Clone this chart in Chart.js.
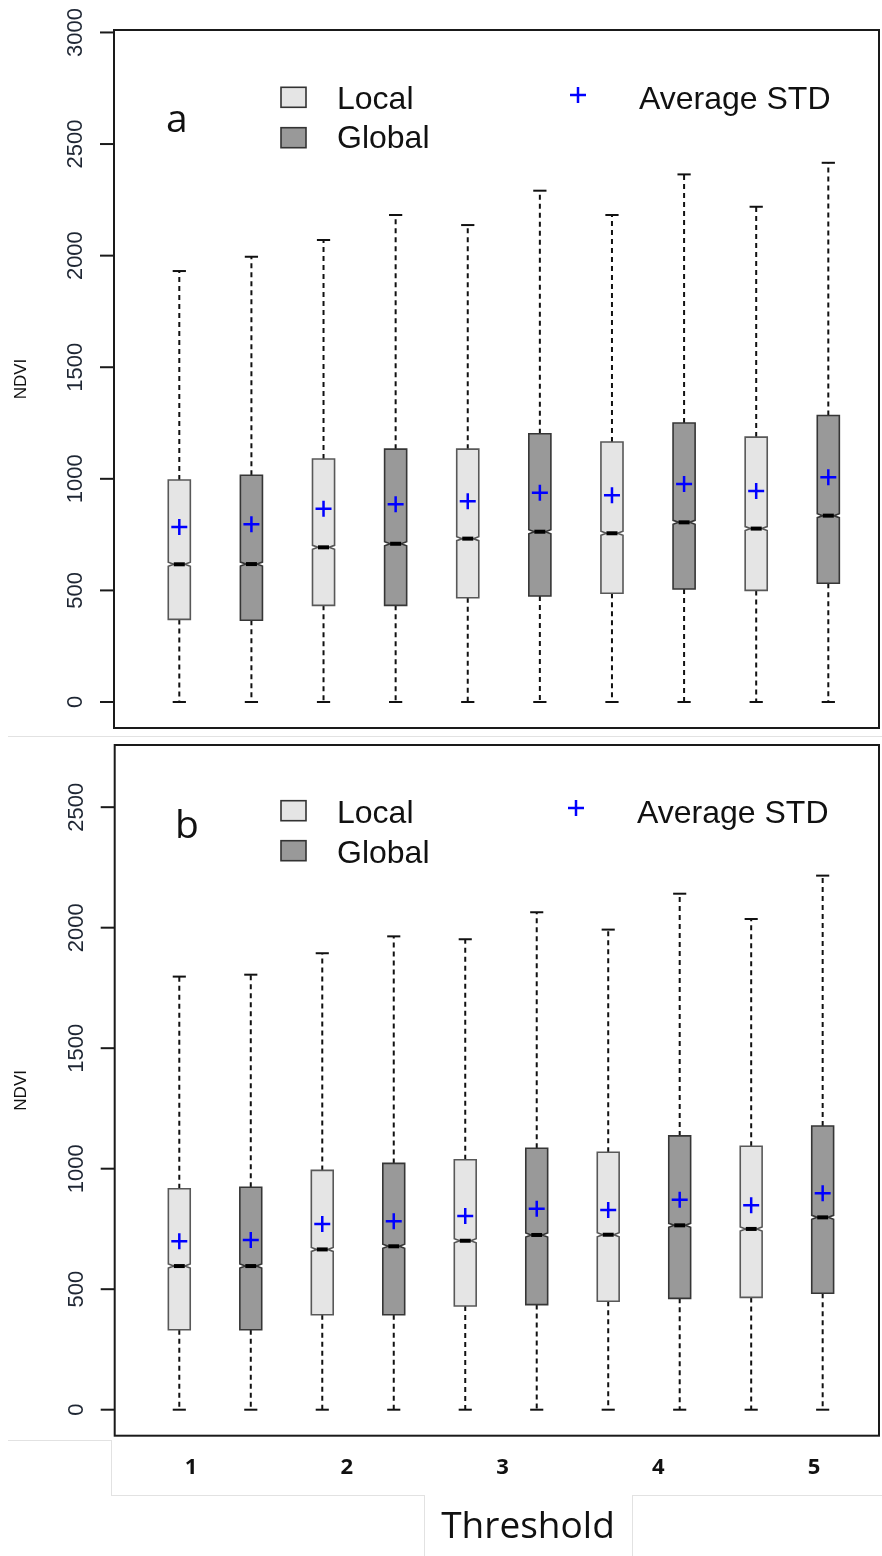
<!DOCTYPE html>
<html><head><meta charset="utf-8">
<script src="https://cdn.jsdelivr.net/npm/chart.js@4.4.0/dist/chart.umd.min.js"></script>
<style>
html,body{margin:0;padding:0;background:#fff;}
body{width:882px;height:1556px;position:relative;overflow:hidden;}
canvas{position:absolute;left:0;}
#ca{top:0;}
#cb{top:735px;}
.fl{position:absolute;background:#e2e2e2;}
</style></head><body>
<div class="fl" style="left:8px;top:736px;width:874px;height:1px"></div>
<div class="fl" style="left:8px;top:1440px;width:104px;height:1px"></div>
<div class="fl" style="left:111px;top:1440px;width:1px;height:56px"></div>
<div class="fl" style="left:111px;top:1495px;width:314px;height:1px"></div>
<div class="fl" style="left:424px;top:1495px;width:1px;height:61px"></div>
<div class="fl" style="left:632px;top:1495px;width:1px;height:61px"></div>
<div class="fl" style="left:632px;top:1495px;width:250px;height:1px"></div>
<canvas id="ca" width="882" height="735"></canvas>
<canvas id="cb" width="882" height="821"></canvas>
<script>
// ---------- data ----------
const positions = [1, 2, 3, 4, 5, 6, 7, 8, 9, 10];
const groups = ['Local', 'Global', 'Local', 'Global', 'Local', 'Global', 'Local', 'Global', 'Local', 'Global'];
const seriesNames = ['Local', 'Global'];
const meanName = 'Average STD';
const thresholds = ['1', '2', '3', '4', '5'];
const yTicksA = [0, 500, 1000, 1500, 2000, 2500, 3000];
const yTicksB = [0, 500, 1000, 1500, 2000, 2500];

// panel a
const aMin  = [0, 0, 0, 0, 0, 0, 0, 0, 0, 0];
const aQ1   = [370, 366, 433, 433, 467, 475, 487, 506, 500, 532];
const aMed  = [617, 618, 693, 709, 732, 763, 756, 805, 777, 835];
const aQ3   = [995, 1016, 1089, 1133, 1133, 1202, 1165, 1250, 1187, 1284];
const aMax  = [1931, 1995, 2070, 2182, 2137, 2291, 2182, 2364, 2219, 2416];
const aMean = [784, 796, 866, 886, 900, 938, 926, 977, 945, 1007];

// panel b
const bMin  = [0, 0, 0, 0, 0, 0, 0, 0, 0, 0];
const bQ1   = [332, 332, 394, 394, 430, 436, 450, 462, 466, 483];
const bMed  = [596, 596, 665, 678, 701, 725, 726, 765, 750, 798];
const bQ3   = [917, 923, 993, 1022, 1037, 1085, 1068, 1136, 1093, 1177];
const bMax  = [1797, 1805, 1894, 1964, 1952, 2064, 1992, 2141, 2036, 2216];
const bMean = [699, 704, 770, 782, 804, 834, 829, 871, 848, 898];

// ---------- styles ----------
const FILL = {Local: '#e5e5e5', Global: '#999999'};
const EDGE = {Local: '#585858', Global: '#363636'};
const SANS = '"Liberation Sans", Arial, sans-serif';

function line(ctx, x1, y1, x2, y2) {
  ctx.beginPath(); ctx.moveTo(x1, y1); ctx.lineTo(x2, y2); ctx.stroke();
}

function panelPlugin(P) {
  return {
    id: 'panel' + P.letter,
    beforeDatasetsDraw(chart) {
      const ctx = chart.ctx, ca = chart.chartArea, xs = chart.scales.x, ys = chart.scales.y;
      ctx.save();
      // frame
      ctx.strokeStyle = '#1a1a1a'; ctx.lineWidth = 2;
      ctx.strokeRect(ca.left, ca.top, ca.right - ca.left, ca.bottom - ca.top);
      // y ticks + rotated labels
      ctx.font = '22px ' + SANS; ctx.fillStyle = '#1e2633';
      P.yTicks.forEach(v => {
        const y = ys.getPixelForValue(v);
        ctx.strokeStyle = '#1a1a1a'; ctx.lineWidth = 2;
        line(ctx, ca.left - 14, y, ca.left, y);
        ctx.save(); ctx.translate(ca.left - 32, y); ctx.rotate(-Math.PI / 2);
        ctx.textAlign = 'center'; ctx.textBaseline = 'alphabetic';
        ctx.fillText(String(v), 0, 0); ctx.restore();
      });
      // y title
      ctx.save(); ctx.font = '17px ' + SANS; ctx.fillStyle = '#111';
      ctx.translate(26, (ca.top + ca.bottom) / 2); ctx.rotate(-Math.PI / 2);
      ctx.textAlign = 'center'; ctx.fillText('NDVI', 0, 0); ctx.restore();

      // boxes
      positions.forEach((p, i) => {
        const cx = xs.getPixelForValue(p);
        const hw = xs.getPixelForValue(p + 0.153) - cx;
        const yq1 = ys.getPixelForValue(P.q1[i]), yq3 = ys.getPixelForValue(P.q3[i]);
        const ymd = ys.getPixelForValue(P.med[i]);
        const ylo = ys.getPixelForValue(P.min[i]), yhi = ys.getPixelForValue(P.max[i]);
        ctx.strokeStyle = '#111'; ctx.lineWidth = 2;
        ctx.setLineDash([5, 4]);
        line(ctx, cx, yq3, cx, yhi);
        line(ctx, cx, yq1, cx, ylo);
        ctx.setLineDash([]);
        const cw = hw * 0.6;
        line(ctx, cx - cw, yhi, cx + cw, yhi);
        line(ctx, cx - cw, ylo, cx + cw, ylo);
        const n = 2;
        ctx.beginPath();
        ctx.moveTo(cx - hw, yq3); ctx.lineTo(cx + hw, yq3); ctx.lineTo(cx + hw, ymd - n);
        ctx.lineTo(cx + hw / 2, ymd); ctx.lineTo(cx + hw, ymd + n); ctx.lineTo(cx + hw, yq1);
        ctx.lineTo(cx - hw, yq1); ctx.lineTo(cx - hw, ymd + n); ctx.lineTo(cx - hw / 2, ymd);
        ctx.lineTo(cx - hw, ymd - n); ctx.closePath();
        ctx.fillStyle = FILL[groups[i]]; ctx.fill();
        ctx.strokeStyle = EDGE[groups[i]]; ctx.lineWidth = 1.6; ctx.stroke();
        ctx.strokeStyle = '#000'; ctx.lineWidth = 4;
        line(ctx, cx - hw / 2, ymd, cx + hw / 2, ymd);
      });

      // legend
      const L = P.leg;
      ctx.font = '32px ' + SANS; ctx.textAlign = 'left'; ctx.textBaseline = 'alphabetic';
      seriesNames.forEach((nm, k) => {
        const top = ca.top + L.sq[k];
        ctx.fillStyle = FILL[nm]; ctx.fillRect(281, top, 25, 20);
        ctx.strokeStyle = '#333'; ctx.lineWidth = 1.6; ctx.strokeRect(281, top, 25, 20);
        ctx.fillStyle = '#111'; ctx.fillText(nm, 337, ca.top + L.base[k]);
      });
      ctx.strokeStyle = '#0000ff'; ctx.lineWidth = 2.5;
      const px = L.plusX, py = ca.top + L.plusY;
      line(ctx, px - 8, py, px + 8, py); line(ctx, px, py - 8, px, py + 8);
      ctx.fillStyle = '#111'; ctx.fillText(meanName, L.avgX, ca.top + L.base[0]);
      // panel letter
      ctx.font = '39px "Open Sans", sans-serif';
      ctx.fillText(P.letter, P.letterX, ca.top + P.letterBase);

      // threshold axis labels (panel b only)
      if (P.thresholdAxis) {
        ctx.font = 'bold 22px "Open Sans", sans-serif'; ctx.textAlign = 'center';
        thresholds.forEach((t, k) => {
          const x = xs.getPixelForValue(1.164 + 2.179 * k);
          ctx.fillText(t, x, ca.bottom + 38.6);
        });
        ctx.font = '37px "Open Sans", sans-serif';
        ctx.fillText('Threshold', 528, ca.bottom + 102.6);
      }
      ctx.restore();
    }
  };
}

function makePanel(id, P) {
  return new Chart(document.getElementById(id), {
    type: 'scatter',
    data: {
      datasets: [{
        label: meanName,
        data: positions.map((p, i) => ({x: p, y: P.mean[i]})),
        pointStyle: 'cross', pointRadius: 8, pointHoverRadius: 8,
        borderWidth: 2.5, pointBorderWidth: 2.5,
        borderColor: '#0000ff', backgroundColor: '#0000ff'
      }]
    },
    options: {
      responsive: false, animation: false, devicePixelRatio: 1,
      layout: {padding: P.pad, autoPadding: false},
      plugins: {legend: {display: false}, tooltip: {enabled: false}},
      events: [],
      scales: {
        x: {type: 'linear', display: false, min: P.xmin, max: P.xmax},
        y: {type: 'linear', display: false, min: P.ymin, max: P.ymax}
      }
    },
    plugins: [panelPlugin(P)]
  });
}

makePanel('ca', {
  letter: 'a', min: aMin, q1: aQ1, med: aMed, q3: aQ3, max: aMax, mean: aMean, yTicks: yTicksA,
  pad: {left: 114, right: 3, top: 30, bottom: 7},
  xmin: 0.0944, xmax: 10.703, ymin: -116.5, ymax: 3011,
  leg: {sq: [57.3, 97.7], base: [79.3, 118], plusX: 578, plusY: 65, avgX: 639},
  letterX: 166, letterBase: 101.7, thresholdAxis: false
});
makePanel('cb', {
  letter: 'b', min: bMin, q1: bQ1, med: bMed, q3: bQ3, max: bMax, mean: bMean, yTicks: yTicksB,
  pad: {left: 114.7, right: 3, top: 10, bottom: 120.3},
  xmin: 0.0964, xmax: 10.788, ymin: -107.9, ymax: 2758,
  leg: {sq: [55.7, 95.7], base: [77.7, 117.7], plusX: 576, plusY: 63, avgX: 637},
  letterX: 175, letterBase: 93.3, thresholdAxis: true
});
</script>
</body></html>
